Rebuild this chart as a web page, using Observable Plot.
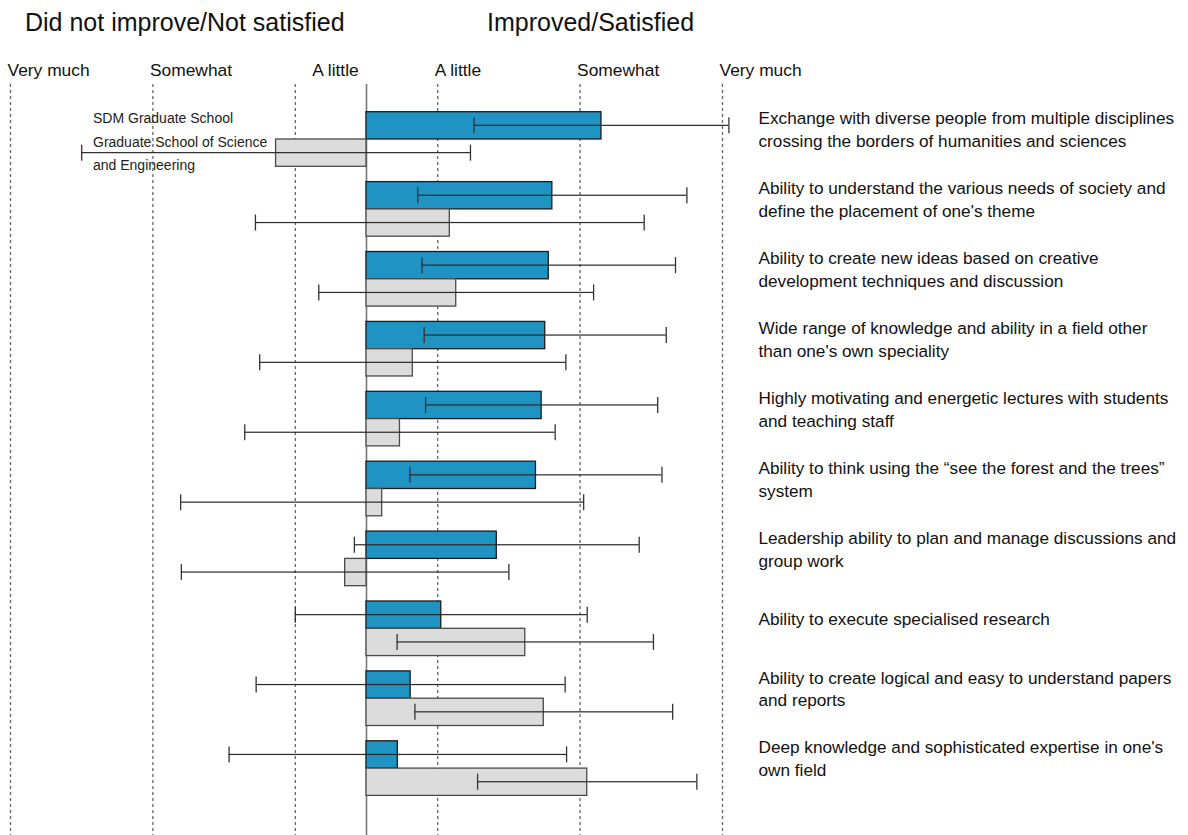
<!DOCTYPE html>
<html>
<head>
<meta charset="utf-8">
<script src="https://cdn.jsdelivr.net/npm/d3@7"></script>
<script src="https://cdn.jsdelivr.net/npm/@observablehq/plot@0.6"></script>
<style>
  body { margin: 0; background: #fff; font-family: "Liberation Sans", Arial, sans-serif; }
  #wrap { position: relative; width: 1188px; height: 835px; overflow: hidden; }
  #chart { position: absolute; left: 0; top: 0; }
  .title { position: absolute; font-size: 25px; line-height: 25px; color: #111; white-space: nowrap; }
  #legend { position: absolute; left: 93px; top: 107px; font-size: 14px; line-height: 23.5px; color: #222; white-space: nowrap; }
</style>
</head>
<body>
<div id="wrap">
  <div id="chart"></div>
  <div class="title" style="left:25px; top:10px;">Did not improve/Not satisfied</div>
  <div class="title" style="left:487px; top:10px;">Improved/Satisfied</div>
  <div id="legend">SDM Graduate School<br>Graduate School of Science<br>and Engineering</div>
</div>
<script>
// Survey items, top to bottom
const items = [
  "Exchange with diverse people from multiple disciplines\ncrossing the borders of humanities and sciences",
  "Ability to understand the various needs of society and\ndefine the placement of one's theme",
  "Ability to create new ideas based on creative\ndevelopment techniques and discussion",
  "Wide range of knowledge and ability in a field other\nthan one's own speciality",
  "Highly motivating and energetic lectures with students\nand teaching staff",
  "Ability to think using the \u201csee the forest and the trees\u201d\nsystem",
  "Leadership ability to plan and manage discussions and\ngroup work",
  "Ability to execute specialised research",
  "Ability to create logical and easy to understand papers\nand reports",
  "Deep knowledge and sophisticated expertise in one's\nown field"
];

// Mean score and spread (negative = did not improve / not satisfied)
const sdmMean = [3.30, 2.61, 2.56, 2.51, 2.46, 2.38, 1.83, 1.05, 0.62, 0.44];
const sdmErr  = [1.79, 1.89, 1.78, 1.70, 1.63, 1.77, 2.00, 2.05, 2.17, 2.37];
const sseMean = [-1.27, 1.17, 1.26, 0.65, 0.47, 0.22, -0.30, 2.23, 2.49, 3.10];
const sseErr  = [2.73, 2.73, 1.93, 2.15, 2.18, 2.83, 2.30, 1.80, 1.81, 1.54];

// Scale labels on both sides of zero
const tickValues = [-5, -3, -1, 1, 3, 5];
const tickLabels = ["Very much", "Somewhat", "A little", "A little", "Somewhat", "Very much"];

const sdm = items.map((item, i) => ({item, mean: sdmMean[i], err: sdmErr[i]}));
const sse = items.map((item, i) => ({item, mean: sseMean[i], err: sseErr[i]}));
const ticks = tickValues.map((value, i) => ({value, label: tickLabels[i]}));

// Each item band holds two stacked bars (SDM on top, Science & Engineering below)
const step = 69.9, pad = 0.219;
const bw = step * (1 - pad);
const half = bw / 2;
const lineW = 1.2, capH = 16;
const cInset = half / 2; // centre of each half-band
const yStart = 111.7 - pad * step;

const fontFamily = "Liberation Sans, Arial, sans-serif";

function errorMarks(data, top) {
  const c = top ? cInset : half + cInset;
  return [
    Plot.barX(data, {
      y: "item", x1: d => d.mean - d.err, x2: d => d.mean + d.err,
      fill: "#2a2a2a", insetTop: c - lineW / 2, insetBottom: bw - c - lineW / 2
    }),
    Plot.tickX(data, {
      y: "item", x: d => d.mean - d.err, stroke: "#333", strokeWidth: 1.3,
      insetTop: c - capH / 2, insetBottom: bw - c - capH / 2
    }),
    Plot.tickX(data, {
      y: "item", x: d => d.mean + d.err, stroke: "#333", strokeWidth: 1.3,
      insetTop: c - capH / 2, insetBottom: bw - c - capH / 2
    })
  ];
}

const chart = Plot.plot({
  width: 1188,
  height: 835,
  marginTop: 84,
  marginBottom: 0,
  marginLeft: 10,
  marginRight: 466,
  style: {fontFamily, background: "white", overflow: "visible"},
  x: {domain: [-5, 5], range: [10, 722], axis: null},
  y: {domain: items, range: [yStart, yStart + step * (items.length + pad)], padding: pad, round: false, axis: null},
  marks: [
    Plot.ruleX(tickValues, {stroke: "#666", strokeWidth: 1.3, strokeDasharray: "3,3"}),
    Plot.ruleX([0], {stroke: "#777", strokeWidth: 1.6}),
    Plot.barX(sdm, {x: "mean", y: "item", fill: "#1f93c2", stroke: "#1c1c1c", strokeWidth: 1.3, insetBottom: half}),
    Plot.barX(sse, {x: "mean", y: "item", fill: "#dcdcdc", stroke: "#4a4a4a", strokeWidth: 1.3, insetTop: half}),
    ...errorMarks(sdm, true),
    ...errorMarks(sse, false),
    // scale labels above the plot
    Plot.text(ticks.filter(d => d.value !== -1), {
      x: "value", text: "label", frameAnchor: "top", textAnchor: "start",
      lineAnchor: "bottom", dy: -9, dx: -3, fontSize: 17.4, fill: "#111"
    }),
    Plot.text(ticks.filter(d => d.value === -1), {
      x: "value", text: "label", frameAnchor: "top", textAnchor: "start",
      lineAnchor: "bottom", dy: -9, dx: 17, fontSize: 17.4, fill: "#111"
    }),
    // item descriptions to the right
    Plot.text(items, {
      y: d => d, text: d => d, frameAnchor: "right", textAnchor: "start",
      dx: 36, dy: -11, lineHeight: 1.33, fontSize: 17.2, fill: "#111"
    })
  ]
});

document.getElementById("chart").appendChild(chart);
</script>
</body>
</html>
